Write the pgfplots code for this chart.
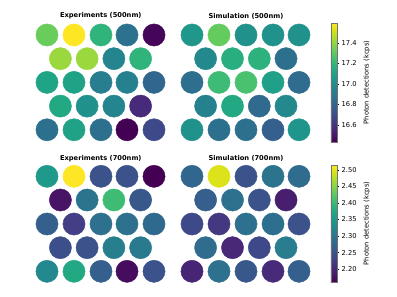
\documentclass[border=0pt]{standalone}
\usepackage{fontspec}
\setmainfont{DejaVu Sans}
\usepackage{pgfplots}
\pgfplotsset{compat=1.18}
\usepackage{pgfplotstable}

\pgfplotstableread{
x y v
47 35 17.33
74 35 17.60
101 35 17.19
127 35 16.87
154 35 16.45
60.4 58.7 17.42
87.1 58.7 17.42
113.9 58.7 16.96
140.6 58.7 17.19
47 82.4 17.11
74 82.4 17.10
101 82.4 16.92
127 82.4 16.94
154 82.4 16.82
60.4 106.1 17.13
87.1 106.1 17.02
113.9 106.1 16.96
140.6 106.1 16.57
47 129.8 16.86
74 129.8 17.10
101 129.8 16.86
127 129.8 16.43
154 129.8 16.69
}\expA

\pgfplotstableread{
x y v
192 35 17.05
219 35 17.32
246 35 17.02
273 35 17.02
299 35 17.02
205.6 58.7 16.98
232.5 58.7 17.16
259.3 58.7 17.18
286 58.7 16.86
192 82.4 16.85
219 82.4 17.23
246 82.4 17.26
273 82.4 17.09
299 82.4 16.84
205.6 106.1 16.94
232.5 106.1 17.13
259.3 106.1 16.83
286 106.1 16.98
192 129.8 17.02
219 129.8 16.86
246 129.8 16.86
273 129.8 16.78
299 129.8 17.04
}\simA

\pgfplotstableread{
x y v
47 176.3 2.352
74 176.3 2.515
101 176.3 2.250
127 176.3 2.250
154 176.3 2.161
60.4 200 2.179
87.1 200 2.296
113.9 200 2.405
140.6 200 2.257
47 224 2.267
74 224 2.225
101 224 2.292
127 224 2.292
154 224 2.281
60.4 247.7 2.246
87.1 247.7 2.250
113.9 247.7 2.313
140.6 247.7 2.306
47 271.3 2.327
74 271.3 2.373
101 271.3 2.267
127 271.3 2.172
154 271.3 2.250
}\expB

\pgfplotstableread{
x y v
192 176.3 2.278
219 176.3 2.497
246 176.3 2.250
273 176.3 2.296
299 176.3 2.285
205.6 200 2.267
232.5 200 2.292
259.3 200 2.250
286 200 2.189
192 224 2.239
219 224 2.218
246 224 2.292
273 224 2.288
299 224 2.250
205.6 247.7 2.285
232.5 247.7 2.200
259.3 247.7 2.239
286 247.7 2.310
192 271.3 2.196
219 271.3 2.292
246 271.3 2.257
273 271.3 2.203
299 271.3 2.267
}\simB

\tikzset{ttl/.style={font=\bfseries\fontsize{6.7}{8}\selectfont}}
\pgfplotsset{
  panel/.style={
    at={(0pt,0pt)}, anchor=south west,
    width=397pt, height=297pt, scale only axis,
    xmin=0, xmax=397, ymin=0, ymax=297, y dir=reverse,
    hide axis, clip=false, colormap/viridis,
  },
  dots/.style={scatter, only marks, mark=*, mark size=11.1pt,
    scatter/use mapped color={draw=mapped color, fill=mapped color},
    point meta=explicit},
  cbar/.style={
    hide axis=false, y dir=normal, axis lines=box,
    scale only axis, width=6pt, height=119pt,
    anchor=north west,
    axis line style={draw=black!55, line width=0.7pt},
    tick align=outside, major tick length=2.2pt,
    tick style={black, line width=0.4pt},
    ytick pos=right, yticklabel pos=right, ylabel near ticks,
    font=\fontsize{6.7}{8}\selectfont,
    ticklabel style={font=\fontsize{6.7}{8}\selectfont},
    /pgf/number format/assume math mode=true,
    ylabel={Photon detections (kcps)},
    ylabel style={font=\fontsize{6.7}{8}\selectfont},
    yticklabel shift=-1pt,
  },
}

\begin{document}
\begin{tikzpicture}
\useasboundingbox (0pt,0pt) rectangle (397pt,297pt);

\begin{axis}[panel, point meta min=16.434, point meta max=17.595]
\addplot[dots] table[x=x, y=y, meta=v] {\expA};
\node[ttl] at (axis cs:100.8,16) {Experiments (500nm)};
\end{axis}

\begin{axis}[panel, point meta min=16.434, point meta max=17.595,
  colorbar,
  colorbar style={cbar, at={(331/397,274/297)},
    ytick={16.6,16.8,17.0,17.2,17.4},
    yticklabel style={/pgf/number format/.cd, fixed, fixed zerofill, precision=1}}]
\addplot[dots] table[x=x, y=y, meta=v] {\simA};
\node[ttl] at (axis cs:246,16) {Simulation (500nm)};
\end{axis}

\begin{axis}[panel, point meta min=2.161, point meta max=2.515]
\addplot[dots] table[x=x, y=y, meta=v] {\expB};
\node[ttl] at (axis cs:100.8,158.3) {Experiments (700nm)};
\end{axis}

\begin{axis}[panel, point meta min=2.161, point meta max=2.515,
  colorbar,
  colorbar style={cbar, at={(331/397,132/297)},
    height=117pt,
    ytick={2.20,2.25,2.30,2.35,2.40,2.45,2.50},
    yticklabel style={/pgf/number format/.cd, fixed, fixed zerofill, precision=2}}]
\addplot[dots] table[x=x, y=y, meta=v] {\simB};
\node[ttl] at (axis cs:246,158.3) {Simulation (700nm)};
\end{axis}
\end{tikzpicture}
\end{document}
